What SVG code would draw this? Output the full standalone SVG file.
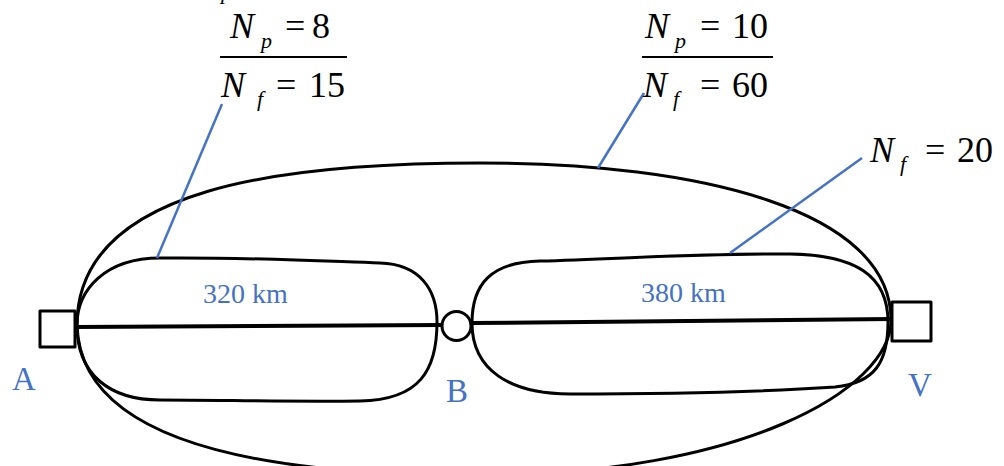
<svg xmlns="http://www.w3.org/2000/svg" width="1004" height="466" viewBox="0 0 1004 466">
<style>
.route{fill:none;stroke:#000;stroke-width:3;stroke-linejoin:round}
.track{fill:none;stroke:#000;stroke-width:4}
.box{fill:#fff;stroke:#000;stroke-width:3;stroke-linejoin:round}
.lead{fill:none;stroke:#4472C4;stroke-width:2.5}
.frac{stroke:#000;stroke-width:2}
.mt{font-family:"Liberation Serif","Times New Roman",serif;fill:#000}
.it{font-style:italic}
.big{font-size:36px}
.sub{font-size:22px}
.lbl{font-family:"Liberation Serif","Times New Roman",serif;fill:#4472C4}
</style>
<g id="connectors">
<path class="route" d="M77,325 C77,185 290,163 480,163 C700,163 891,210 891,320 C891,390 740,475 480,475 C230,476 80,432 77,325 Z"/>
<path class="route" d="M77,325 C77,290 105,258 160,258 C240,257 320,261 380,263 C420,264 437,290 437,322 C437,370 420,400 360,401 C290,402 220,400 160,400 C110,400 77,375 77,325 Z"/>
<path class="route" d="M472,323 C472,285 490,262 540,261 C620,259 700,253 790,254 C855,255 888,275 888,322 C888,362 875,383 835,387 C760,392 650,394 570,394 C510,394 472,370 472,323 Z"/>
<line class="track" x1="75" y1="327" x2="442" y2="325"/>
<line class="track" x1="471" y1="323" x2="892" y2="319"/>
<line class="lead" x1="222" y1="104" x2="157" y2="258"/>
<line class="lead" x1="644" y1="93" x2="598" y2="168"/>
<line class="lead" x1="862" y1="158" x2="730" y2="253"/>
</g>
<g id="node-A">
<rect class="box" x="40" y="311" width="35" height="36"/>
<text class="lbl" x="12" y="390" font-size="33">A</text>
</g>
<g id="node-B">
<circle class="box" cx="456.5" cy="326" r="14.5"/>
<text class="lbl" x="446" y="402" font-size="33">B</text>
</g>
<g id="node-V">
<rect class="box" x="892" y="302" width="39" height="39"/>
<text class="lbl" x="908" y="396" font-size="33">V</text>
</g>
<g id="label-320">
<text class="lbl" x="203" y="303" font-size="28">320 km</text>
</g>
<g id="label-380">
<text class="lbl" x="641" y="302" font-size="28">380 km</text>
</g>
<g id="fraction-left">
<text class="mt it sub" x="221" y="-1">p</text>
<text class="mt it big" x="230" y="38">N</text>
<text class="mt it sub" x="261" y="48">p</text>
<text class="mt big" x="285" y="38">=</text>
<text class="mt big" x="312" y="38">8</text>
<line class="frac" x1="220" y1="57" x2="347" y2="57"/>
<text class="mt it big" x="221" y="97">N</text>
<text class="mt it sub" x="257" y="106">f</text>
<text class="mt big" x="276" y="97">=</text>
<text class="mt big" x="309" y="97">15</text>
</g>
<g id="fraction-right">
<text class="mt it big" x="645" y="38">N</text>
<text class="mt it sub" x="675" y="48">p</text>
<text class="mt big" x="700" y="38">=</text>
<text class="mt big" x="732" y="38">10</text>
<line class="frac" x1="642" y1="57" x2="773" y2="57"/>
<text class="mt it big" x="643" y="97">N</text>
<text class="mt it sub" x="673" y="106">f</text>
<text class="mt big" x="700" y="97">=</text>
<text class="mt big" x="732" y="97">60</text>
</g>
<g id="label-nf20">
<text class="mt it big" x="870" y="162">N</text>
<text class="mt it sub" x="900" y="171">f</text>
<text class="mt big" x="925" y="162">=</text>
<text class="mt big" x="957" y="162">20</text>
</g>
</svg>
